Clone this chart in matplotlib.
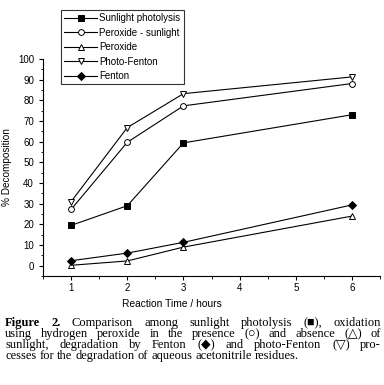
import matplotlib
matplotlib.use("Agg")
import matplotlib.pyplot as plt
from matplotlib.ticker import MultipleLocator

plt.rcParams['font.family'] = ['Liberation Sans', 'DejaVu Sans']

# reaction times (hours)
hours = [1, 2, 3, 6]

# % decomposition per process
sunlight_photolysis = [19.5, 29, 59.4, 73]
peroxide_sunlight = [27.2, 59.7, 77.3, 88.1]
peroxide = [0.2, 2.3, 9, 24]
photo_fenton = [31, 66.8, 83.2, 91.3]
fenton = [2.4, 6.1, 11.3, 29.4]

series = [
    ("Sunlight photolysis", sunlight_photolysis, 's', 'black'),
    ("Peroxide - sunlight", peroxide_sunlight, 'o', 'white'),
    ("Peroxide", peroxide, '^', 'white'),
    ("Photo-Fenton", photo_fenton, 'v', 'white'),
    ("Fenton", fenton, 'D', 'black'),
]

fig = plt.figure(figsize=(3.84, 3.85), dpi=100)
ax = fig.add_axes([0.112, 0.283, 0.878, 0.564])

for label, vals, mk, fc in series:
    ax.plot(hours, vals, color='black', lw=0.8, marker=mk, markersize=4.2,
            markerfacecolor=fc, markeredgecolor='black', markeredgewidth=0.7,
            label=label)

ax.set_xlim(0.5, 6.5)
ax.set_ylim(-5, 100)
ax.xaxis.set_major_locator(MultipleLocator(1))
ax.xaxis.set_minor_locator(MultipleLocator(0.5))
ax.yaxis.set_major_locator(MultipleLocator(10))
ax.yaxis.set_minor_locator(MultipleLocator(5))
ax.spines['top'].set_visible(False)
ax.spines['right'].set_visible(False)
for s in ('left', 'bottom'):
    ax.spines[s].set_linewidth(0.8)
ax.tick_params(which='major', direction='out', length=3, width=0.8, labelsize=7)
ax.tick_params(axis='x', which='major', pad=2)
ax.tick_params(which='minor', direction='out', length=1.8, width=0.6)
ax.set_xlabel("Reaction Time / hours", fontsize=7.4, labelpad=4)
ax.xaxis.set_label_coords(0.383, -0.105)
ax.set_ylabel("% Decomposition", fontsize=7.2, labelpad=4)

leg = ax.legend(loc='upper left', bbox_to_anchor=(0.159, 0.974),
                bbox_transform=fig.transFigure, fontsize=7, frameon=True,
                fancybox=False, edgecolor='black', handlelength=3.3,
                handletextpad=0.25, borderpad=0.35, labelspacing=0.45,
                borderaxespad=0)
leg.get_frame().set_linewidth(0.8)

# caption, justified word by word
cap_lines = [
    "Figure 2. Comparison among sunlight photolysis (\u25a0), oxidation",
    "using hydrogen peroxide in the presence (\u25cb) and absence (\u25b3) of",
    "sunlight, degradation by Fenton (\u25c6) and photo-Fenton (\u25bd) pro-",
    "cesses for the degradation of aqueous acetonitrile residues.",
]
cap_y = [326, 337, 348, 359]
left_px, right_px = 5, 381
fam = ['Liberation Serif', 'DejaVu Sans']
fs = 9
renderer = fig.canvas.get_renderer()
W, H = fig.bbox.width, fig.bbox.height

probe1 = fig.text(0, 0, 'a b', fontsize=fs, family=fam)
probe2 = fig.text(0, 0, 'ab', fontsize=fs, family=fam)
sp = probe1.get_window_extent(renderer).width - probe2.get_window_extent(renderer).width
probe1.remove()
probe2.remove()

for i, (line, ypx) in enumerate(zip(cap_lines, cap_y)):
    words = line.split(' ')
    texts = []
    for j, w in enumerate(words):
        bold = (i == 0 and j < 2)
        t = fig.text(0, 1 - ypx / H, w, fontsize=fs, family=fam,
                     fontweight='bold' if bold else 'normal', va='baseline')
        texts.append(t)
    widths = [t.get_window_extent(renderer).width for t in texts]
    if i < len(cap_lines) - 1:
        gap = (right_px - left_px - sum(widths)) / (len(words) - 1)
    else:
        gap = sp
    x = left_px
    for t, w in zip(texts, widths):
        t.set_x(x / W)
        x += w + gap

fig.savefig("out.png", dpi=100)
